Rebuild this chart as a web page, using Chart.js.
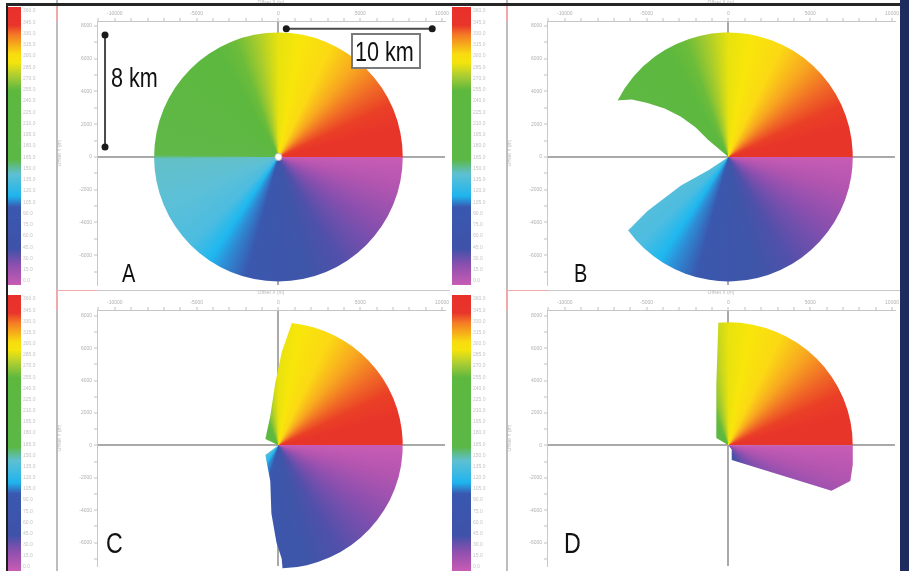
<!DOCTYPE html>
<html>
<head>
<meta charset="utf-8">
<script src="https://cdn.jsdelivr.net/npm/chart.js@4.4.1/dist/chart.umd.min.js"></script>
<style>
  html, body { margin: 0; padding: 0; background: #fff; }
  #wrap { position: relative; width: 909px; height: 571px; overflow: hidden; background: #fff; }
  .panel { position: absolute; }
  .edge { position: absolute; }
</style>
</head>
<body>
<div id="wrap">
  <canvas id="panelA" class="panel" width="450" height="290" style="left:0;top:0"></canvas>
  <canvas id="panelB" class="panel" width="450" height="290" style="left:450px;top:0"></canvas>
  <canvas id="panelC" class="panel" width="450" height="281" style="left:0;top:290px"></canvas>
  <canvas id="panelD" class="panel" width="450" height="281" style="left:450px;top:290px"></canvas>
  <div class="edge" style="left:6px;top:3px;width:2px;height:568px;background:#1e1e1e"></div>
  <div class="edge" style="left:6px;top:3px;width:894px;height:3px;background:#262626"></div>
  <div class="edge" style="left:900px;top:0;width:9px;height:571px;background:#1d2b5e"></div>
</div>
<script>
// offsets in km, azimuth in degrees counter-clockwise from +x

// tick labels (km) and colour-bar labels (deg)
const xLabelKm = [-10, -5, 0, 5, 10];
const yLabelKm = [-6, -4, -2, 0, 2, 4, 6, 8];
const barLabels = [360, 345, 330, 315, 300, 285, 270, 255, 240, 225, 210, 195, 180,
                   165, 150, 135, 120, 105, 90, 75, 60, 45, 30, 15, 0];

// A: full coverage
const arcA = [7.6, 0, 360];            // radius, from, to
const hubA = 0.22;

// B: one wedge missing on the west side
const outB = [[-1.2, -0.8], [-2.9, -1.75], [-4.95, -3.3], [-6.15, -4.5]];
const arcB = [7.6, 216, 513];
const backB = [[-6.95, 3.45], [-5.9, 3.5], [-4.95, 3.3], [-3.9, 2.95], [-2.9, 2.45], [-2.0, 1.8], [-1.25, 1.05]];

// C: eastern half only
const outC = [[-0.8, -0.6], [-0.5, -2.2], [-0.43, -4.2], [-0.12, -6.0], [0.2, -7.0], [0.25, -7.6]];
const arcC = [7.6, 272, 444];
const backC = [[0.8, 7.5], [0.2, 5.75], [-0.2, 3.8], [-0.5, 1.8], [-0.8, 0.4]];

// D: north-east quarter plus a narrow strip below
const arcD = [7.6, 0, 94.7];
const backD = [[-0.62, 7.55], [-0.74, 3.8], [-0.74, 0.45]];
const outD2 = [[0.2, -0.25], [0.2, -0.9], [6.3, -2.8], [7.45, -2.2], [7.6, -1.2], [7.6, 0]];

// scale rulers drawn on panel A: [fixed coord, from, to]
const rulerV = [-10.6, 0.6, 7.45];
const rulerH = [7.82, 0.48, 9.4];

// colour of the azimuth wheel, clockwise on screen from east
const wheelStops = [
  [0, '#c85cb4'], [0.042, '#b255b0'], [0.097, '#8a4fae'], [0.167, '#5050aa'],
  [0.208, '#3f55a8'], [0.292, '#3a58ae'], [0.325, '#2d8ed6'], [0.344, '#1fb8ef'],
  [0.375, '#4cbce0'], [0.444, '#5ec0d6'], [0.497, '#62c0c8'], [0.503, '#60b848'],
  [0.667, '#5cb83e'], [0.694, '#6cbc3a'], [0.722, '#a8cc2c'], [0.75, '#e8e20e'],
  [0.778, '#f8e60a'], [0.822, '#fbd814'], [0.861, '#f8a820'], [0.9, '#f06a26'],
  [0.93, '#ea4026'], [0.96, '#e8352a'], [1, '#e8352a']
];
const barStops = [
  [0, '#e8302a'], [0.065, '#e8352a'], [0.1, '#f47a26'], [0.17, '#f8dc10'], [0.2, '#f4e40c'],
  [0.25, '#a8cc34'], [0.3, '#5cb83e'], [0.55, '#5cb846'], [0.6, '#5ec0d2'], [0.68, '#1fb4ee'],
  [0.72, '#3a58b0'], [0.87, '#3e52a8'], [0.93, '#8e50ae'], [1, '#c85cb4']
];

const SANS = "'Liberation Sans', 'DejaVu Sans', sans-serif";

// condensed look: squeeze the regular face horizontally
function narrowText(ctx, text, x, y, size) {
  ctx.save();
  ctx.translate(x, y);
  ctx.scale(0.8, 1);
  ctx.font = size + 'px ' + SANS;
  ctx.fillText(text, 0, 0);
  ctx.restore();
}

function fanPath(ctx, x, y, cx, cy, out, arc, back) {
  const kx = x.getPixelForValue(1) - cx;
  const ky = cy - y.getPixelForValue(1);
  ctx.beginPath();
  ctx.moveTo(cx, cy);
  out.forEach(p => ctx.lineTo(x.getPixelForValue(p[0]), y.getPixelForValue(p[1])));
  if (arc) {
    const r = arc[0];
    ctx.ellipse(cx, cy, r * kx, r * ky, 0, -arc[1] * Math.PI / 180, -arc[2] * Math.PI / 180, true);
  }
  back.forEach(p => ctx.lineTo(x.getPixelForValue(p[0]), y.getPixelForValue(p[1])));
  ctx.closePath();
}

function makePanel(id, pos, yMin, yMax, axisH, letter, letterPos, letterSize, shapes, extras) {
  const canvas = document.getElementById(id);
  const H = canvas.height;
  const barTop = pos.row === 0 ? 7 : 5;
  const barBottom = pos.row === 0 ? 285 : 281;

  const decor = {
    id: 'decor' + id,
    beforeDraw(chart) {
      const ctx = chart.ctx;
      ctx.save();
      // colour bar
      const g = ctx.createLinearGradient(0, barTop, 0, barBottom);
      barStops.forEach(s => g.addColorStop(s[0], s[1]));
      ctx.fillStyle = g;
      const bl = pos.col === 0 ? 8 : 2;
      ctx.fillRect(bl, barTop, 21 - bl, barBottom - barTop);
      ctx.fillStyle = '#c4c4c4';
      ctx.font = '5px ' + SANS;
      ctx.textBaseline = 'middle';
      barLabels.forEach((v, i) => {
        const yy = barTop + 4 + i * (barBottom - barTop - 8) / (barLabels.length - 1);
        ctx.fillText(v.toFixed(1), 23, yy);
      });
      // frame lines on the left
      ctx.fillStyle = '#bdbdbd';
      ctx.fillRect(56, 0, 2, H);
      ctx.fillStyle = '#f2a8a8';
      ctx.fillRect(56, pos.row === 0 ? 6 : 0, 2, chart.chartArea.top - (pos.row === 0 ? 6 : 0));
      if (pos.row === 1) {
        ctx.fillRect(57, 0, 40, 1);
        ctx.fillStyle = '#c8c8c8';
        ctx.fillRect(97, 0, 353, 1);
      }
      ctx.restore();
    },
    beforeDatasetsDraw(chart) {
      const { ctx, scales: { x, y } } = chart;
      const cx = x.getPixelForValue(0);
      const cy = y.getPixelForValue(0);
      ctx.save();
      let fill = '#888';
      if (ctx.createConicGradient) {
        fill = ctx.createConicGradient(0, cx, cy);
        wheelStops.forEach(s => fill.addColorStop(s[0], s[1]));
      }
      ctx.fillStyle = fill;
      shapes.forEach(s => {
        fanPath(ctx, x, y, cx, cy, s.out, s.arc, s.back);
        ctx.fill();
      });
      if (extras && extras.hub) {
        const r = extras.hub * (x.getPixelForValue(1) - cx);
        ctx.beginPath();
        ctx.arc(cx, cy, r, 0, Math.PI * 2);
        ctx.fillStyle = '#ffffff';
        ctx.fill();
        ctx.strokeStyle = '#b8b8b8';
        ctx.lineWidth = 1;
        ctx.stroke();
      }
      ctx.restore();
    },
    afterDraw(chart) {
      const { ctx, scales: { x, y } } = chart;
      ctx.save();
      ctx.fillStyle = '#111';
      ctx.textBaseline = 'alphabetic';
      narrowText(ctx, letter, letterPos[0], letterPos[1], letterSize);
      if (extras && extras.rulers) {
        ctx.strokeStyle = '#4a4a4a';
        ctx.lineWidth = 2;
        const vx = x.getPixelForValue(rulerV[0]);
        const vy0 = y.getPixelForValue(rulerV[1]);
        const vy1 = y.getPixelForValue(rulerV[2]);
        const hy = y.getPixelForValue(rulerH[0]);
        const hx0 = x.getPixelForValue(rulerH[1]);
        const hx1 = x.getPixelForValue(rulerH[2]);
        ctx.beginPath();
        ctx.moveTo(vx, vy0); ctx.lineTo(vx, vy1);
        ctx.moveTo(hx0, hy); ctx.lineTo(hx1, hy);
        ctx.stroke();
        ctx.fillStyle = '#1a1a1a';
        [[vx, vy0], [vx, vy1], [hx0, hy], [hx1, hy]].forEach(p => {
          ctx.beginPath();
          ctx.arc(p[0], p[1], 3.5, 0, Math.PI * 2);
          ctx.fill();
        });
        // 8 km label
        ctx.fillStyle = '#111';
        narrowText(ctx, '8 km', 111, 87, 27);
        // 10 km boxed label
        ctx.fillStyle = '#fff';
        ctx.fillRect(352, 34, 68, 34);
        ctx.strokeStyle = '#7a7a7a';
        ctx.lineWidth = 2;
        ctx.strokeRect(352, 34, 68, 34);
        ctx.fillStyle = '#111';
        narrowText(ctx, '10 km', 355, 61, 27);
      }
      ctx.restore();
    }
  };

  const tickFont = { size: 5, family: SANS };
  const zeroGrid = c => (c.tick && c.tick.value === 0 ? '#a9a9a9' : 'rgba(0,0,0,0)');
  const labelFor = list => v => (list.includes(Math.round(v)) && Math.abs(v - Math.round(v)) < 1e-6 ? String(Math.round(v) * 1000) : '');

  return new Chart(canvas, {
    type: 'scatter',
    data: { datasets: [{ data: [], pointRadius: 0 }] },
    options: {
      responsive: false,
      devicePixelRatio: 1,
      animation: false,
      events: [],
      layout: { padding: { left: 57, right: 2, top: 0, bottom: pos.row === 0 ? 3 : 0 } },
      plugins: { legend: { display: false }, tooltip: { enabled: false } },
      scales: {
        x: {
          type: 'linear',
          position: 'top',
          min: -11.09,
          max: 10.18,
          afterFit: s => { s.height = axisH; },
          border: { display: true, color: '#c4c4c4', width: 1 },
          grid: { color: zeroGrid, lineWidth: 2, tickColor: '#c0c0c0', tickLength: 3, tickWidth: 1 },
          title: { display: true, text: 'Offset X (m)', color: '#b8b8b8', font: tickFont, padding: 0 },
          ticks: {
            stepSize: 1,
            includeBounds: false,
            autoSkip: false,
            maxRotation: 0,
            padding: 1,
            color: '#b0b0b0',
            font: tickFont,
            callback: labelFor(xLabelKm)
          }
        },
        y: {
          type: 'linear',
          min: yMin,
          max: yMax,
          afterFit: s => { s.width = 40; },
          border: { display: true, color: '#c8c8c8', width: 1 },
          grid: { color: zeroGrid, lineWidth: 2, tickColor: '#c0c0c0', tickLength: 3, tickWidth: 1 },
          title: { display: true, text: 'Offset Y (m)', color: '#b8b8b8', font: tickFont, padding: 0 },
          ticks: {
            stepSize: 1,
            includeBounds: false,
            autoSkip: false,
            padding: 2,
            color: '#b0b0b0',
            font: tickFont,
            callback: labelFor(yLabelKm)
          }
        }
      }
    },
    plugins: [decor]
  });
}

makePanel('panelA', { row: 0, col: 0 }, -7.82, 8.30, 21, 'A', [122, 282], 25,
  [{ out: [], arc: arcA, back: [] }], { hub: hubA, rulers: true });
makePanel('panelB', { row: 0, col: 1 }, -7.82, 8.30, 21, 'B', [124, 282], 25,
  [{ out: outB, arc: arcB, back: backB }], null);
makePanel('panelC', { row: 1, col: 0 }, -7.45, 8.36, 20, 'C', [106, 263], 29,
  [{ out: outC, arc: arcC, back: backC }], null);
makePanel('panelD', { row: 1, col: 1 }, -7.45, 8.36, 20, 'D', [114, 263], 29,
  [{ out: [], arc: arcD, back: backD }, { out: outD2, arc: null, back: [] }], null);
</script>
</body>
</html>
